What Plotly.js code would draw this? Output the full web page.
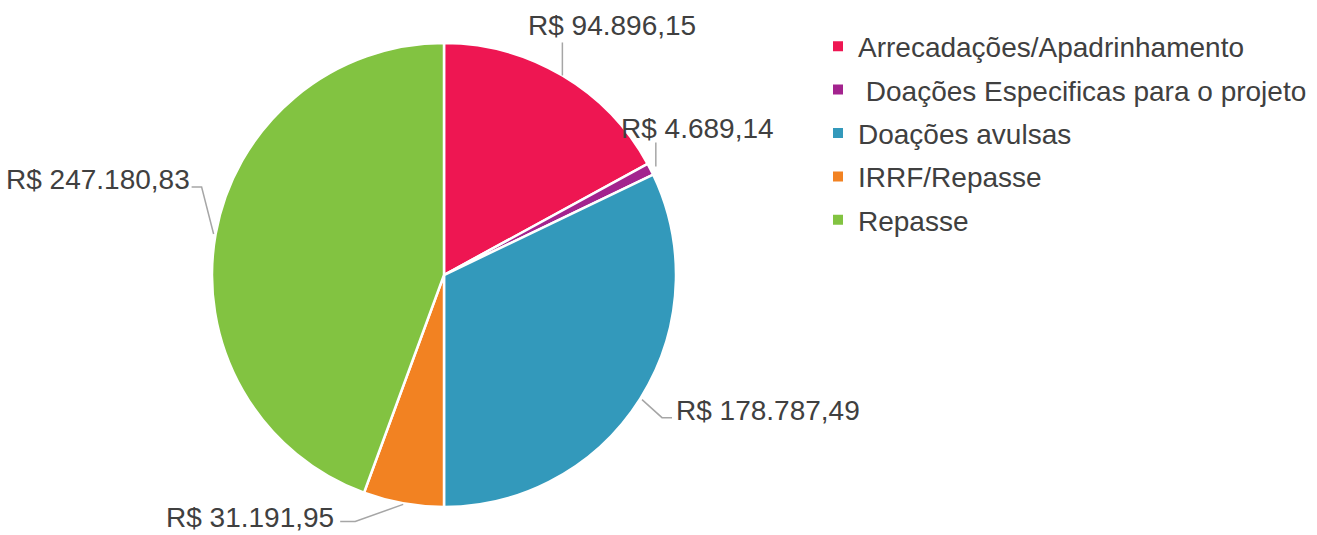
<!DOCTYPE html>
<html>
<head>
<meta charset="utf-8">
<script src="https://cdn.plot.ly/plotly-3.0.1.min.js"></script>
<style>html,body{margin:0;padding:0;background:#fff;}#chart{width:1317px;height:535px;}</style>
</head>
<body>
<div id="chart"></div>
<script>
// ---- data ----
const categories = ["Arrecadações/Apadrinhamento", " Doações Especificas para o projeto", "Doações avulsas", "IRRF/Repasse", "Repasse"];
const values = [94896.15, 4689.14, 178787.49, 31191.95, 247180.83];
const colors = ["#EE1652", "#A3238E", "#3399BB", "#F28222", "#82C341"];

// ---- geometry / style ----
const W = 1317, H = 535;
const CX = 444, CY = 275, R = 232;
const FONT = "Liberation Sans, Arial, sans-serif";
const px = x => x / W, py = y => 1 - y / H;
// leader geometry per slice, relative to the slice's mid-edge point (style only)
const leaderStyle = [
  {start: 0, pts: [[0, -33]], text: [-36, -50], xa: "left", ya: "middle"},
  {start: 6, pts: [[0, -24]], text: [-37, -38], xa: "left", ya: "middle"},
  {start: 2, pts: [[20, 18], [30, 18]], text: [32, 11], xa: "left", ya: "middle"},
  {start: 1, pts: [[-48, 17], [-63, 17]], text: [-67, 30.5], xa: "right", ya: "bottom"},
  {start: 2, pts: [[-12, -47], [-22, -47]], text: [-22, -55], xa: "right", ya: "middle"}
];

function brl(v) {
  const parts = v.toFixed(2).split(".");
  const intp = parts[0].replace(/\B(?=(\d{3})+(?!\d))/g, ".");
  return "R$ " + intp + "," + parts[1];
}

const total = values.reduce((a, b) => a + b, 0);
const shapes = [], annotations = [];
let cum = 0;
values.forEach((v, i) => {
  const mid = (cum + v / 2) / total * 2 * Math.PI;
  cum += v;
  const st = leaderStyle[i];
  const rr = R + st.start;
  const ax = CX + rr * Math.sin(mid), ay = CY - rr * Math.cos(mid);
  let path = "M" + px(ax) + "," + py(ay);
  st.pts.forEach(p => { path += " L" + px(ax + p[0]) + "," + py(ay + p[1]); });
  shapes.push({type: "path", xref: "paper", yref: "paper", path: path,
    line: {color: "#A6A6A6", width: 1.5}});
  annotations.push({xref: "paper", yref: "paper", x: px(ax + st.text[0]), y: Math.max(0, py(ay + st.text[1])),
    xanchor: st.xa, yanchor: st.ya, showarrow: false, text: brl(v),
    font: {family: FONT, size: 28, color: "#404040"}});
});

const pie = {
  type: "pie",
  labels: categories,
  values: values,
  sort: false,
  direction: "clockwise",
  rotation: 0,
  textinfo: "none",
  hoverinfo: "label+value+percent",
  showlegend: false,
  marker: {colors: colors, line: {color: "#FFFFFF", width: 2.5}},
  domain: {x: [(CX - R) / W, (CX + R) / W], y: [1 - (CY + R) / H, 1 - (CY - R) / H]}
};

// legend entries (one per category, each in its own group so spacing can match)
const legendTraces = categories.map((c, i) => ({
  type: "scatter", mode: "markers", x: [null], y: [null],
  name: c, legendgroup: "g" + i,
  marker: {symbol: "square", size: 10, color: colors[i]},
  hoverinfo: "skip"
}));

const layout = {
  width: W, height: H,
  margin: {l: 0, r: 0, t: 0, b: 0},
  paper_bgcolor: "#FFFFFF",
  plot_bgcolor: "rgba(0,0,0,0)",
  xaxis: {visible: false, domain: [0.99, 1]},
  yaxis: {visible: false, domain: [0.99, 1]},
  showlegend: true,
  legend: {x: px(818), y: py(21.5), xanchor: "left", yanchor: "top",
    tracegroupgap: 4,
    font: {family: FONT, size: 28, color: "#404040"},
    bgcolor: "rgba(0,0,0,0)"},
  shapes: shapes,
  annotations: annotations
};

Plotly.newPlot("chart", [pie].concat(legendTraces), layout, {displayModeBar: false, staticPlot: true});
</script>
</body>
</html>
